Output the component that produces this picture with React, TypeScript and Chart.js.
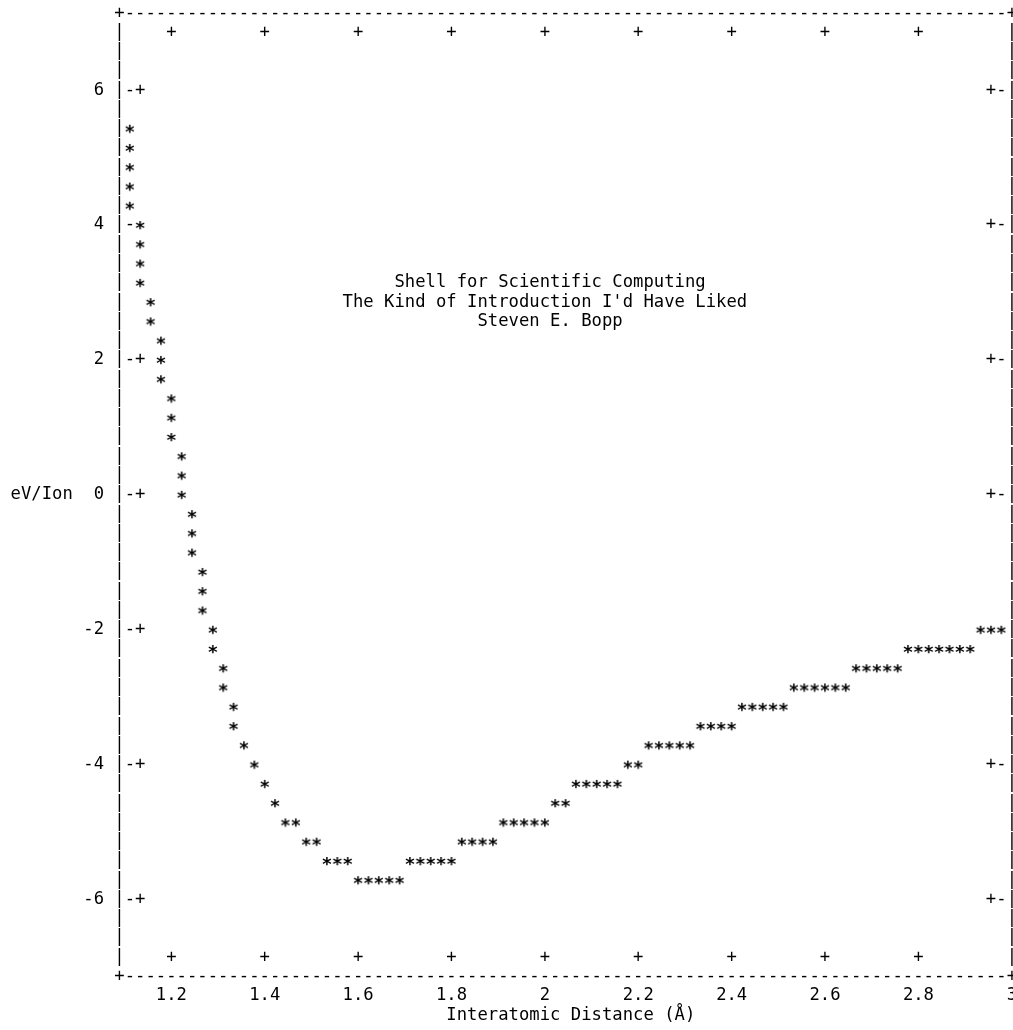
import React, { useEffect, useRef } from "react";
import { Chart, registerables } from "chart.js";

Chart.register(...registerables);

// ---- data ----
const distance = [
  1.1111, 1.1111, 1.1111, 1.1111, 1.1111,
  1.1333, 1.1333, 1.1333, 1.1333,
  1.1556, 1.1556,
  1.1778, 1.1778, 1.1778,
  1.2, 1.2, 1.2,
  1.2222, 1.2222, 1.2222,
  1.2444, 1.2444, 1.2444,
  1.2667, 1.2667, 1.2667,
  1.2889, 1.2889,
  1.3111, 1.3111,
  1.3333, 1.3333,
  1.3556, 1.3778, 1.4, 1.4222,
  1.4444, 1.4667,
  1.4889, 1.5111,
  1.5333, 1.5556, 1.5778,
  1.6, 1.6222, 1.6444, 1.6667, 1.6889,
  1.7111, 1.7333, 1.7556, 1.7778, 1.8,
  1.8222, 1.8444, 1.8667, 1.8889,
  1.9111, 1.9333, 1.9556, 1.9778, 2.0,
  2.0222, 2.0444,
  2.0667, 2.0889, 2.1111, 2.1333, 2.1556,
  2.1778, 2.2,
  2.2222, 2.2444, 2.2667, 2.2889, 2.3111,
  2.3333, 2.3556, 2.3778, 2.4,
  2.4222, 2.4444, 2.4667, 2.4889, 2.5111,
  2.5333, 2.5556, 2.5778, 2.6, 2.6222, 2.6444,
  2.6667, 2.6889, 2.7111, 2.7333, 2.7556,
  2.7778, 2.8, 2.8222, 2.8444, 2.8667, 2.8889, 2.9111,
  2.9333, 2.9556, 2.9778,
];

const energy = [
  5.429, 5.143, 4.857, 4.571, 4.286,
  4.0, 3.714, 3.429, 3.143,
  2.857, 2.571,
  2.286, 2.0, 1.714,
  1.429, 1.143, 0.857,
  0.571, 0.286, 0.0,
  -0.286, -0.571, -0.857,
  -1.143, -1.429, -1.714,
  -2.0, -2.286,
  -2.571, -2.857,
  -3.143, -3.429,
  -3.714, -4.0, -4.286, -4.571,
  -4.857, -4.857,
  -5.143, -5.143,
  -5.429, -5.429, -5.429,
  -5.714, -5.714, -5.714, -5.714, -5.714,
  -5.429, -5.429, -5.429, -5.429, -5.429,
  -5.143, -5.143, -5.143, -5.143,
  -4.857, -4.857, -4.857, -4.857, -4.857,
  -4.571, -4.571,
  -4.286, -4.286, -4.286, -4.286, -4.286,
  -4.0, -4.0,
  -3.714, -3.714, -3.714, -3.714, -3.714,
  -3.429, -3.429, -3.429, -3.429,
  -3.143, -3.143, -3.143, -3.143, -3.143,
  -2.857, -2.857, -2.857, -2.857, -2.857, -2.857,
  -2.571, -2.571, -2.571, -2.571, -2.571,
  -2.286, -2.286, -2.286, -2.286, -2.286, -2.286, -2.286,
  -2.0, -2.0, -2.0,
];

const xTickValues = [1.2, 1.4, 1.6, 1.8, 2.0, 2.2, 2.4, 2.6, 2.8, 3.0];
const xTickLabels = ["1.2", "1.4", "1.6", "1.8", "2", "2.2", "2.4", "2.6", "2.8", "3"];
const yTickValues = [-6, -4, -2, 0, 2, 4, 6];
const yTickLabels = ["-6", "-4", "-2", "0", "2", "4", "6"];

const titleLines = [
  "Shell for Scientific Computing",
  "The Kind of Introduction I'd Have Liked",
  "Steven E. Bopp",
];
const xAxisTitle = "Interatomic Distance (Å)";
const yAxisTitle = "eV/Ion";

// ---- layout ----
const W = 1013;
const H = 1030;
const FONT_SIZE = 17.2;
const FAMILY = '"DejaVu Sans Mono", monospace';
const FONT = `${FONT_SIZE}px ${FAMILY}`;
const STAR_FONT = `bold 18px ${FAMILY}`;
const AREA = { left: 119.5, right: 1011.8, top: 13.05, bottom: 976.55 };
const COLS = 86;
const ROWS = 50;
const X_MIN = 1.0888889;
const X_MAX = 3.0;
const Y_MIN = -7.142857;
const Y_MAX = 7.142857;

function makeStar(): HTMLCanvasElement {
  const c = document.createElement("canvas");
  c.width = 14;
  c.height = 20;
  const g = c.getContext("2d")!;
  g.font = STAR_FONT;
  g.fillStyle = "#000";
  g.textAlign = "center";
  g.textBaseline = "alphabetic";
  const m = g.measureText("*");
  const asc = m.actualBoundingBoxAscent || 10;
  const desc = m.actualBoundingBoxDescent || 0;
  g.fillText("*", 7, 10 + (asc - desc) / 2);
  return c;
}

const asciiPlugin = {
  id: "asciiFrame",
  beforeDatasetsDraw(chart: any) {
    const { ctx, chartArea: a } = chart;
    const xs = chart.scales.x;
    const ys = chart.scales.y;
    const cw = (a.right - a.left) / COLS;
    const rh = (a.bottom - a.top) / ROWS;
    const cx = (c: number) => a.left + c * cw;
    const cy = (r: number) => a.top + r * rh;
    const occupied = new Set<string>();
    distance.forEach((d, i) => {
      const c = Math.round((xs.getPixelForValue(d) - a.left) / cw);
      const r = Math.round((ys.getPixelForValue(energy[i]) - a.top) / rh);
      occupied.add(c + "," + r);
    });
    ctx.save();
    ctx.font = FONT;
    ctx.fillStyle = "#000";
    ctx.textAlign = "center";
    ctx.textBaseline = "middle";
    const put = (ch: string, c: number, r: number) => {
      if (ch === " " || occupied.has(c + "," + r)) return;
      ctx.fillText(ch, cx(c), cy(r));
    };
    const text = (s: string, c: number, r: number) => {
      Array.from(s).forEach((ch, i) => put(ch, c + i, r));
    };
    // border
    for (let c = 1; c < COLS; c++) {
      put("-", c, 0);
      put("-", c, ROWS);
    }
    for (let r = 1; r < ROWS; r++) {
      put("|", 0, r);
      put("|", COLS, r);
    }
    put("+", 0, 0);
    put("+", COLS, 0);
    put("+", 0, ROWS);
    put("+", COLS, ROWS);
    // tick marks
    xs.ticks.forEach((t: any) => {
      const c = Math.round((xs.getPixelForValue(t.value) - a.left) / cw);
      if (c > 0 && c < COLS) {
        put("+", c, 1);
        put("+", c, ROWS - 1);
      }
    });
    ys.ticks.forEach((t: any) => {
      const r = Math.round((ys.getPixelForValue(t.value) - a.top) / rh);
      put("-", 1, r);
      put("+", 2, r);
      put("+", COLS - 2, r);
      put("-", COLS - 1, r);
    });
    // labels
    text(yAxisTitle, -10, 25);
    text(titleLines[0], 27, 14);
    text(titleLines[1], 22, 15);
    text(titleLines[2], 35, 16);
    text(xAxisTitle, 32, 52);
    ctx.restore();
  },
};

export default function App() {
  const ref = useRef<HTMLCanvasElement>(null);

  useEffect(() => {
    const canvas = ref.current!;
    const star = makeStar();
    const tickFont = { family: FAMILY, size: FONT_SIZE, lineHeight: 1.2 };
    const chart = new Chart(canvas, {
      type: "scatter",
      data: {
        datasets: [
          {
            data: distance.map((x, i) => ({ x, y: energy[i] })),
            pointStyle: star as any,
            pointRadius: 5,
            pointHoverRadius: 5,
            pointBorderWidth: 0,
            showLine: false,
          },
        ],
      },
      options: {
        responsive: false,
        devicePixelRatio: 1,
        animation: false,
        events: [],
        layout: {
          autoPadding: false,
          padding: { left: 0, top: AREA.top, right: W - AREA.right, bottom: 0 },
        },
        scales: {
          x: {
            type: "linear",
            min: X_MIN,
            max: X_MAX,
            grid: { display: false, drawTicks: false },
            border: { display: false },
            ticks: {
              font: tickFont,
              color: "#000",
              padding: 8.95,
              autoSkip: false,
              maxRotation: 0,
              minRotation: 0,
              callback: (_v: any, i: number) => xTickLabels[i],
            },
            afterBuildTicks: (s: any) => {
              s.ticks = xTickValues.map((v) => ({ value: v }));
            },
            afterFit: (s: any) => {
              s.height = H - AREA.bottom;
              s.paddingLeft = 0;
              s.paddingRight = 0;
            },
          },
          y: {
            type: "linear",
            min: Y_MIN,
            max: Y_MAX,
            grid: { display: false, drawTicks: false },
            border: { display: false },
            ticks: {
              font: tickFont,
              color: "#000",
              padding: 15.5,
              autoSkip: false,
              callback: (_v: any, i: number) => yTickLabels[i],
            },
            afterBuildTicks: (s: any) => {
              s.ticks = yTickValues.map((v) => ({ value: v }));
            },
            afterFit: (s: any) => {
              s.width = AREA.left;
              s.paddingTop = 0;
              s.paddingBottom = 0;
            },
          },
        },
        plugins: {
          legend: { display: false },
          tooltip: { enabled: false },
          title: { display: false },
        },
      },
      plugins: [asciiPlugin],
    });
    return () => chart.destroy();
  }, []);

  return (
    <div style={{ position: "absolute", left: 0, top: 0, width: W, height: H, background: "#fff" }}>
      <canvas ref={ref} width={W} height={H} style={{ display: "block", width: W, height: H }} />
    </div>
  );
}
